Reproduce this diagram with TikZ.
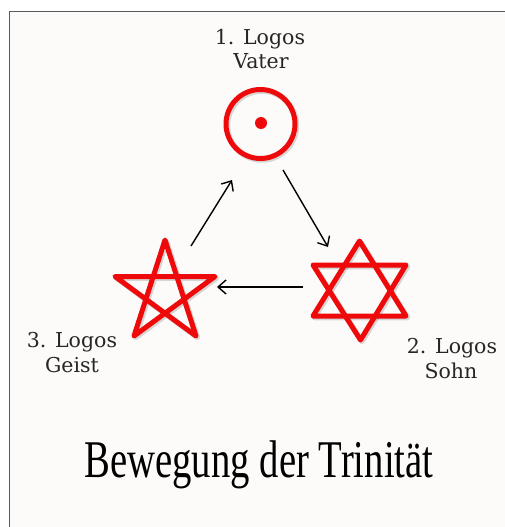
\documentclass[tikz,border=0pt]{standalone}
\usepackage{fontspec}
\setmainfont{DejaVu Serif}
\newfontfamily\titlefont{Liberation Serif}
\usetikzlibrary{arrows.meta}
\definecolor{symred}{RGB}{238,10,10}
\definecolor{bgpaper}{RGB}{252,251,250}
\definecolor{framegray}{RGB}{90,90,90}
\tikzset{
  symbol/.style={draw=symred, line width=5pt, line join=round, line cap=round},
  symshadow/.style={draw=black, opacity=0.15, line width=5.5pt, line join=round, line cap=round},
  flow/.style={draw=black, line width=1.4pt, -{Straight Barb[length=8pt,width=14pt,line width=1.4pt]}},
  lbl/.style={font=\fontsize{20.5}{24}\selectfont, text=black!85, anchor=base, inner sep=0pt},
}
\begin{document}
\begin{tikzpicture}[x=1pt,y=-1pt]
\useasboundingbox (0,0) rectangle (505,527);
\fill[white] (0,0) rectangle (505,527);
\fill[bgpaper] (9,12) rectangle (505,527);
\draw[framegray, line width=1pt] (9,527) -- (9,12) -- (505,12);

% shadows
\begin{scope}[shift={(1.5,1.5)}]
\draw[symshadow] (260.5,124) circle (34.5pt);
\draw[symshadow] (165,240) -- (196,336) -- (115,276.5) -- (215,276.5) -- (134,336) -- cycle;
\draw[symshadow] (359.5,241) -- (406,316) -- (313,316) -- cycle;
\draw[symshadow] (360.5,340) -- (313,265) -- (406,265) -- cycle;
\end{scope}

% Vater: circle with dot
\node[symbol, circle, minimum size=69pt, inner sep=0pt] (vater) at (260.5,124) {};
\fill[symred] (261,123) circle (6pt);

% Geist: pentagram
\draw[symbol] (165,240) -- (196,336) -- (115,276.5) -- (215,276.5) -- (134,336) -- cycle;

% Sohn: hexagram
\draw[symbol] (359.5,241) -- (406,316) -- (313,316) -- cycle;
\draw[symbol] (360.5,340) -- (313,265) -- (406,265) -- cycle;

% arrows
\coordinate (a1s) at (191,246);
\coordinate (a1e) at (232,180);
\coordinate (a2s) at (283,170);
\coordinate (a2e) at (328,247);
\coordinate (a3s) at (303,287);
\coordinate (a3e) at (217,287);
\draw[flow] (a1s) -- (a1e);
\draw[flow] (a2s) -- (a2e);
\draw[flow] (a3s) -- (a3e);

% labels
\node[lbl] (l1a) at (260,45) {1. Logos};
\node[lbl] (l1b) at (261,69) {Vater};
\node[lbl] (l2a) at (452,353) {2. Logos};
\node[lbl] (l2b) at (451,378) {Sohn};
\node[lbl] (l3a) at (72,347) {3. Logos};
\node[lbl] (l3b) at (72,372) {Geist};

\node[anchor=base, inner sep=0pt] (title) at (259,477) {\scalebox{0.73}[1]{\titlefont\fontsize{53}{60}\selectfont Bewegung der Trinität}};
\end{tikzpicture}
\end{document}
